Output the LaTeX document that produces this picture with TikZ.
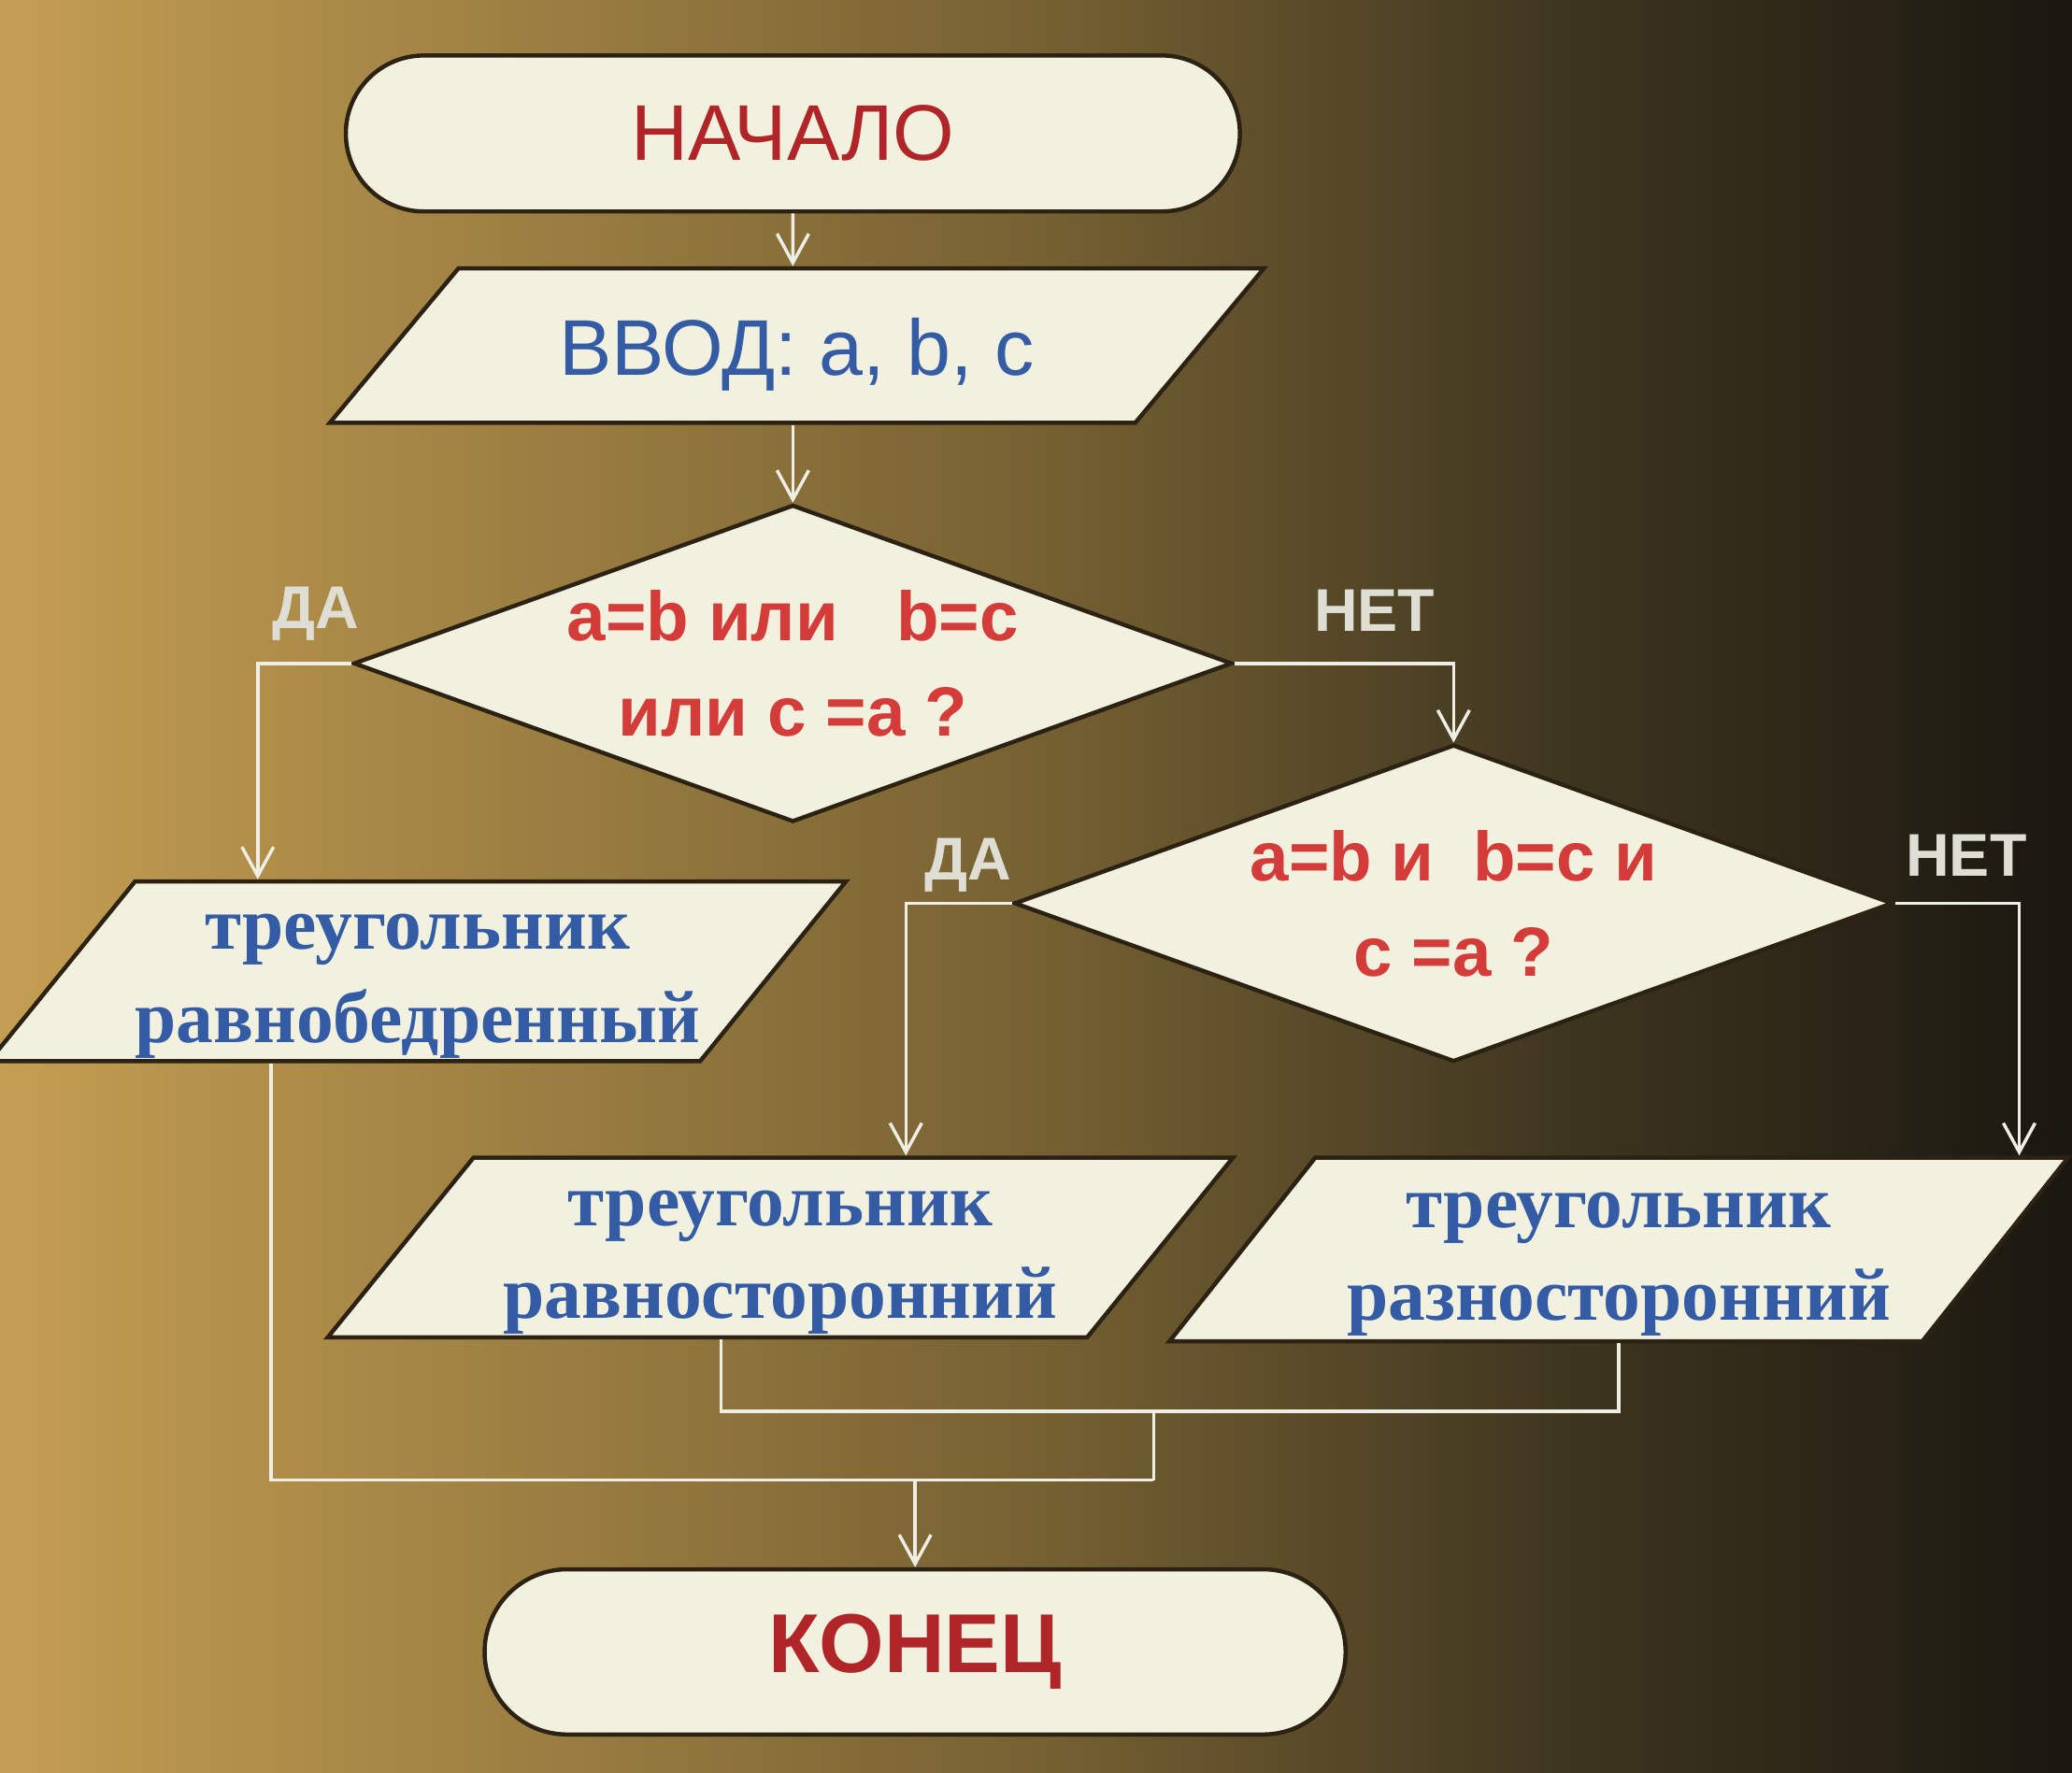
\documentclass[tikz,border=0pt]{standalone}
\usepackage{fontspec}
\setmainfont{Liberation Serif}
\setsansfont{Liberation Sans}
\usetikzlibrary{arrows.meta,positioning,shapes.geometric,shapes.misc,calc}
\definecolor{board}{RGB}{196,158,82}
\definecolor{boardmid}{RGB}{118,97,50}
\definecolor{boarddeep}{RGB}{62,53,31}
\definecolor{boarddark}{RGB}{26,23,16}
\definecolor{paper}{RGB}{242,240,222}
\definecolor{rim}{RGB}{44,34,20}
\definecolor{wire}{RGB}{238,238,228}
\definecolor{crimson}{RGB}{176,38,40}
\definecolor{salmon}{RGB}{212,60,58}
\definecolor{ocean}{RGB}{52,92,165}
\definecolor{chalk}{RGB}{222,222,212}
\pgfdeclarehorizontalshading{slide}{100bp}{color(0bp)=(board); color(25bp)=(board);
  color(50bp)=(boardmid); color(63bp)=(boarddeep); color(75bp)=(boarddark); color(100bp)=(boarddark)}
\tikzset{
  >={Straight Barb[length=2.2mm,width=2.4mm]},
  link/.style={line width=0.7pt,draw=wire},
  flow/.style={->,link},
  terminal/.style={rounded rectangle,draw=rim,line width=0.9pt,fill=paper,
    minimum width=7cm,minimum height=1.18cm,text=crimson,
    font=\sffamily\fontsize{17}{20}\selectfont},
  io/.style={trapezium,trapezium left angle=50,trapezium right angle=130,
    trapezium stretches body,draw=rim,line width=0.9pt,fill=paper,
    align=center,inner sep=0pt},
  decision/.style={diamond,aspect=2.77,draw=rim,line width=0.9pt,fill=paper,
    minimum width=6.65cm,minimum height=2.4cm,inner sep=-2mm,align=center,
    text=salmon,font=\sffamily\bfseries\fontsize{15}{20.5}\selectfont},
  answer/.style={text=ocean,font=\bfseries\fontsize{16}{20}\selectfont},
  tag/.style={text=chalk,inner sep=1pt,font=\sffamily\bfseries\fontsize{13}{15}\selectfont},
}
\begin{document}
\begin{tikzpicture}
  \useasboundingbox (0,0) rectangle (15.68,-13.41);
  \shade[shading=slide] (0,0) rectangle (15.68,-13.41);

  \node[terminal] (start) at (6.0,-1.01) {НАЧАЛО};
  \node[io,minimum width=7.07cm,minimum height=1.17cm,inner ysep=2.4mm,text=ocean,text height=16pt,
    font=\sffamily\fontsize{17}{20}\selectfont] (in) at (6.03,-2.615) {ВВОД: a, b, c};
  \node[decision] (q1) at (6.0,-5.02) {a=b или\ \ \ b=c\\или c =a ?};
  \node[decision] (q2) at (11.0,-6.835) {a=b и\ \ b=c и\\c =a ?};
  \node[io,answer,minimum width=6.32cm,minimum height=1.36cm] (iso) at (3.16,-7.35) {\strut треугольник\\равнобедренный};
  \node[io,answer,minimum width=6.85cm,minimum height=1.36cm] (eq) at (5.905,-9.44) {\strut треугольник\\равносторонний};
  \node[io,answer,minimum width=6.8cm,minimum height=1.39cm] (sc) at (12.25,-9.455) {\strut треугольник\\разносторонний};
  \node[terminal,minimum width=6.75cm,minimum height=1.25cm,
    font=\sffamily\bfseries\fontsize{18}{20}\selectfont] (end) at (6.925,-12.5) {КОНЕЦ};

  \draw[flow] (start) -- (start |- in.north);
  \draw[flow] (start |- in.south) -- (q1);
  \coordinate (c1) at (q1.east -| q2.north);
  \draw[flow] (q1.east) -- (c1) -- (q2.north);
  \coordinate (isoin) at ([xshift=-12.1mm]iso.north);
  \draw[flow] (q1.west) -| (isoin);
  \coordinate (eqin) at ([xshift=9.5mm]eq.north);
  \draw[flow] (q2.west) -| (eqin);
  \coordinate (scin) at ([xshift=30.3mm]sc.north);
  \draw[flow] (q2.east) -| (scin);

  \coordinate (isoout) at ([xshift=-11.1mm]iso.south);
  \coordinate (eqout) at ([xshift=-4.5mm]eq.south);
  \coordinate (join1) at (8.73,-10.68);
  \coordinate (join2) at (8.73,-11.2);
  \draw[link] (eqout) |- (join1) -| (sc.south);
  \draw[link] (join1) -- (join2);
  \draw[link] (isoout) |- (join2);
  \draw[flow] (join2 -| end.north) -- (end.north);

  \node[tag,above left=1.3mm and -1mm of q1.west] (yes1) {ДА};
  \node[tag,above left=2mm and 1mm of c1] (no1) {НЕТ};
  \node[tag,above left=0.4mm and -0.4mm of q2.west] (yes2) {ДА};
  \node[tag,above right=1.6mm and 0.4mm of q2.east] (no2) {НЕТ};
\end{tikzpicture}
\end{document}
